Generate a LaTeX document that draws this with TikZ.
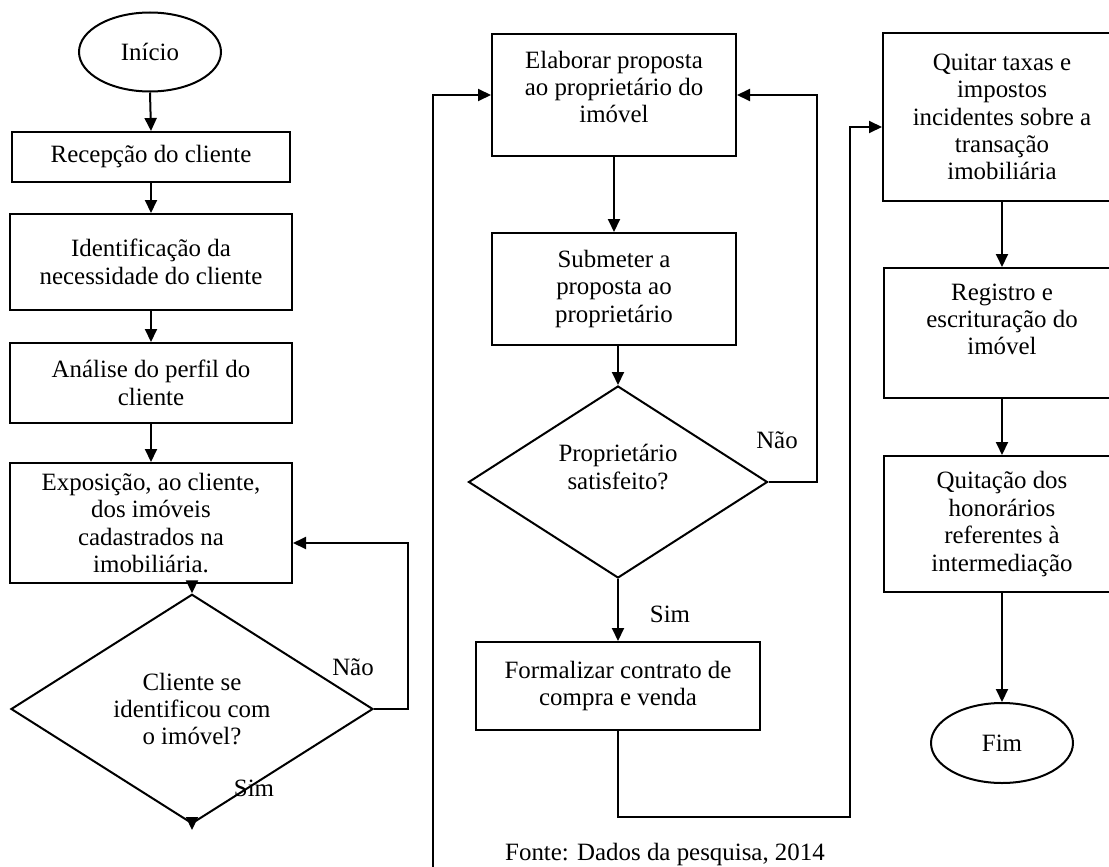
\documentclass[tikz,border=0pt]{standalone}
\usepackage{fontspec}
\setmainfont{Liberation Serif}
\usetikzlibrary{shapes.geometric,arrows.meta}
\newcommand{\upbox}[2]{\raisebox{#1}[\height][\depth]{\begin{tabular}{@{}c@{}}#2\end{tabular}}}
\begin{document}
\begin{tikzpicture}[x=1bp,y=-1bp,
  every node/.style={font=\fontsize{25}{27.5}\selectfont},
  box/.style={draw, line width=2bp, rectangle, align=center, inner sep=0pt},
  term/.style={draw, line width=2bp, ellipse, inner sep=0pt},
  dec/.style={draw, line width=2bp, diamond, align=center, inner sep=0pt},
  lbl/.style={inner sep=0pt},
  flow/.style={line width=2bp, -{Triangle[width=12bp,length=13bp]}}]
\useasboundingbox (0,0) rectangle (1109,867);
\clip (0,0) rectangle (1109,867);

% left column
\node[term, minimum width=142bp, minimum height=79bp] (inicio) at (150,52) {Início};
\node[box, minimum width=278bp, minimum height=50bp] (recep) at (151,157) {Recepção do cliente};
\node[box, minimum width=282bp, minimum height=96bp] (ident) at (151,262) {Identificação da\\necessidade do cliente};
\node[box, minimum width=282bp, minimum height=80bp] (anal) at (151,383) {Análise do perfil do\\cliente};
\node[box, minimum width=282bp, minimum height=120bp] (expo) at (151,523) {Exposição, ao cliente,\\dos imóveis\\cadastrados na\\imobiliária.};
\node[dec, minimum width=362bp, minimum height=182bp] (d1) at (192,709) {Cliente se\\identificou com\\o imóvel?};
\node[lbl] (nao1) at (353,667) {Não};
\node[lbl] (sim1) at (254,788) {Sim};
\coordinate (e1) at (192,830);

\draw[flow] (inicio.south) -- (recep.north);
\draw[flow] (recep.south) -- (ident.north);
\draw[flow] (ident.south) -- (anal.north);
\draw[flow] (anal.south) -- (expo.north);
\draw[flow] (expo.south -| d1.north) -- (d1.north);
\draw[flow] (d1.east) -- ++(34,0) |- ([yshift=-20bp]expo.east);
\draw[flow] (d1.south) -- (e1);

% middle column
\node[box, minimum width=244bp, minimum height=122bp] (elab) at (614,95) {\upbox{5pt}{Elaborar proposta\\ao proprietário do\\imóvel}};
\node[box, minimum width=244bp, minimum height=112bp] (subm) at (614,289) {Submeter a\\proposta ao\\proprietário};
\node[dec, minimum width=299bp, minimum height=192bp] (d2) at (618,482) {\upbox{12pt}{Proprietário\\satisfeito?}};
\node[box, minimum width=284bp, minimum height=88bp] (form) at (618,686) {Formalizar contrato de\\compra e venda};
\node[lbl] (nao2) at (777,440) {Não};
\node[lbl] (sim2) at (670,614) {Sim};
\coordinate (l1) at (433,880);
\coordinate (k) at (850,817);

\draw[flow] (l1) |- (elab.west);
\draw[flow] (elab.south) -- (subm.north);
\draw[flow] (d2.north |- subm.south) -- (d2.north);
\draw[flow] (d2.east) -- ++(48,0) |- (elab.east);
\draw[flow] (d2.south) -- (form.north);

% right column
\node[box, minimum width=238bp, minimum height=168bp] (quit) at (1002,117) {Quitar taxas e\\impostos\\incidentes sobre a\\transação\\imobiliária};
\node[box, minimum width=236bp, minimum height=130bp] (reg) at (1002,333) {\upbox{11pt}{Registro e\\escrituração do\\imóvel}};
\node[box, minimum width=236bp, minimum height=136bp] (quitac) at (1002,524) {Quitação dos\\honorários\\referentes à\\intermediação};
\node[term, minimum width=142bp, minimum height=80bp] (fim) at (1002,743) {Fim};

\draw[flow] (form.south) |- (k) |- ([yshift=-10bp]quit.west);
\draw[flow] (quit.south) -- (reg.north);
\draw[flow] (reg.south) -- (quitac.north);
\draw[flow] (quitac.south) -- (fim.north);

\node[lbl, anchor=north west] (fonte) at (505,843) {Fonte: Dados da pesquisa, 2014};
\end{tikzpicture}
\end{document}
